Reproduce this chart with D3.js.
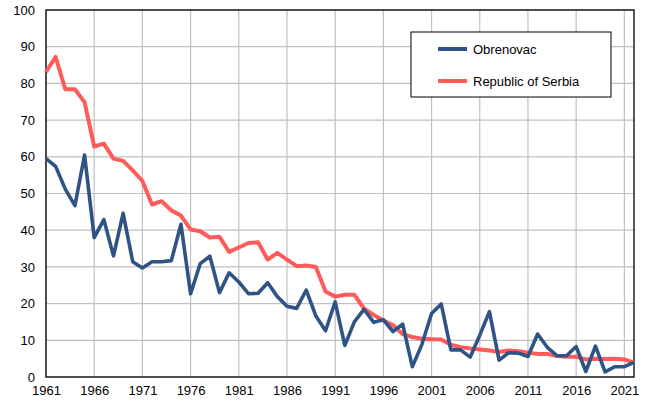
<!DOCTYPE html>
<html>
<head>
<meta charset="utf-8">
<script src="https://cdn.jsdelivr.net/npm/d3@7"></script>
<style>
  body { margin: 0; background: #fff; }
  svg { display: block; font-family: "Liberation Sans", Arial, sans-serif; }
</style>
</head>
<body>
<script>
// years 1961..2022
const years = d3.range(1961, 2023);
const obrenovac = [59.5, 57.4, 51.2, 46.7, 60.5, 38, 42.9, 33, 44.6, 31.4,
  29.7, 31.4, 31.4, 31.7, 41.6, 22.7, 30.9, 32.9, 23, 28.4,
  25.9, 22.7, 22.8, 25.7, 21.9, 19.3, 18.7, 23.7, 16.6, 12.6,
  20.5, 8.6, 15.1, 18.4, 14.9, 15.6, 12.4, 14.4, 2.8, 8.9,
  17.3, 19.9, 7.4, 7.4, 5.4, 11.4, 17.8, 4.6, 6.6, 6.5,
  5.6, 11.7, 8.1, 5.8, 5.8, 8.3, 1.5, 8.4, 1.4, 2.8,
  2.8, 4.0];
const serbia = [83.1, 87.2, 78.4, 78.4, 74.9, 62.8, 63.6, 59.5, 58.9, 56.3,
  53.4, 47, 47.9, 45.4, 44, 40.2, 39.7, 38, 38.2, 34.1,
  35.3, 36.5, 36.7, 32, 33.8, 32, 30.2, 30.4, 30, 23.3,
  21.9, 22.4, 22.4, 18.6, 16.9, 15.4, 14.1, 11.7, 10.9, 10.4,
  10.3, 10.2, 8.8, 8.1, 7.8, 7.5, 7.2, 6.8, 7.2, 7,
  6.6, 6.3, 6.3, 5.7, 5.5, 5.5, 4.8, 5, 4.9, 5,
  4.8, 3.9];
const xTicks = d3.range(1961, 2022, 5);
const yTicks = d3.range(0, 101, 10);
const seriesNames = ["Obrenovac", "Republic of Serbia"];
const seriesColors = ["#2f5384", "#ff5b5b"];

const W = 645, H = 407;
const margin = {left: 46, right: 11, top: 10, bottom: 30};

const svg = d3.select("body").append("svg")
  .attr("width", W).attr("height", H);

const x = d3.scaleLinear().domain([1961, 2022]).range([margin.left, W - margin.right]);
const y = d3.scaleLinear().domain([0, 100]).range([H - margin.bottom, margin.top]);

// grid
svg.append("g").selectAll("line.h")
  .data(yTicks)
  .join("line")
  .attr("x1", x(1961)).attr("x2", x(2022))
  .attr("y1", d => y(d)).attr("y2", d => y(d))
  .attr("stroke", "#c0c0c0").attr("stroke-width", 1.2);

svg.append("g").selectAll("line.v")
  .data(xTicks)
  .join("line")
  .attr("x1", d => x(d)).attr("x2", d => x(d))
  .attr("y1", y(0)).attr("y2", y(100))
  .attr("stroke", "#c0c0c0").attr("stroke-width", 1.2);

// plot border
svg.append("rect")
  .attr("x", x(1961)).attr("y", y(100))
  .attr("width", x(2022) - x(1961)).attr("height", y(0) - y(100))
  .attr("fill", "none").attr("stroke", "#000").attr("stroke-width", 1.3);

// axes labels
const yAxis = d3.axisLeft(y).tickValues(yTicks).tickSize(0).tickPadding(11);
svg.append("g").attr("transform", `translate(${x(1961)},0)`).call(yAxis)
  .call(g => g.select(".domain").remove())
  .selectAll("text").attr("font-size", 13).attr("fill", "#000")
  .attr("font-family", "Liberation Sans, Arial, sans-serif");

const xAxis = d3.axisBottom(x).tickValues(xTicks).tickFormat(d3.format("d")).tickSize(0).tickPadding(9);
svg.append("g").attr("transform", `translate(0,${y(0)})`).call(xAxis)
  .call(g => g.select(".domain").remove())
  .selectAll("text").attr("font-size", 13).attr("fill", "#000")
  .attr("font-family", "Liberation Sans, Arial, sans-serif");

// lines
const line = d3.line().x((d, i) => x(years[i])).y(d => y(d));
svg.append("path").datum(serbia)
  .attr("d", line).attr("fill", "none")
  .attr("stroke", seriesColors[1]).attr("stroke-width", 4)
  .attr("stroke-linejoin", "round");
svg.append("path").datum(obrenovac)
  .attr("d", line).attr("fill", "none")
  .attr("stroke", seriesColors[0]).attr("stroke-width", 3.6)
  .attr("stroke-linejoin", "round");

// legend
const lg = svg.append("g").attr("transform", "translate(411,32)");
lg.append("rect").attr("width", 200).attr("height", 65)
  .attr("fill", "#fff").attr("stroke", "#000").attr("stroke-width", 1);
seriesNames.forEach((name, i) => {
  const yy = 17 + i * 32;
  lg.append("line").attr("x1", 27).attr("x2", 56).attr("y1", yy).attr("y2", yy)
    .attr("stroke", seriesColors[i]).attr("stroke-width", 4);
  lg.append("text").attr("x", 62).attr("y", yy).attr("dy", "0.35em")
    .attr("font-size", 13).attr("fill", "#000").text(name);
});
</script>
</body>
</html>
